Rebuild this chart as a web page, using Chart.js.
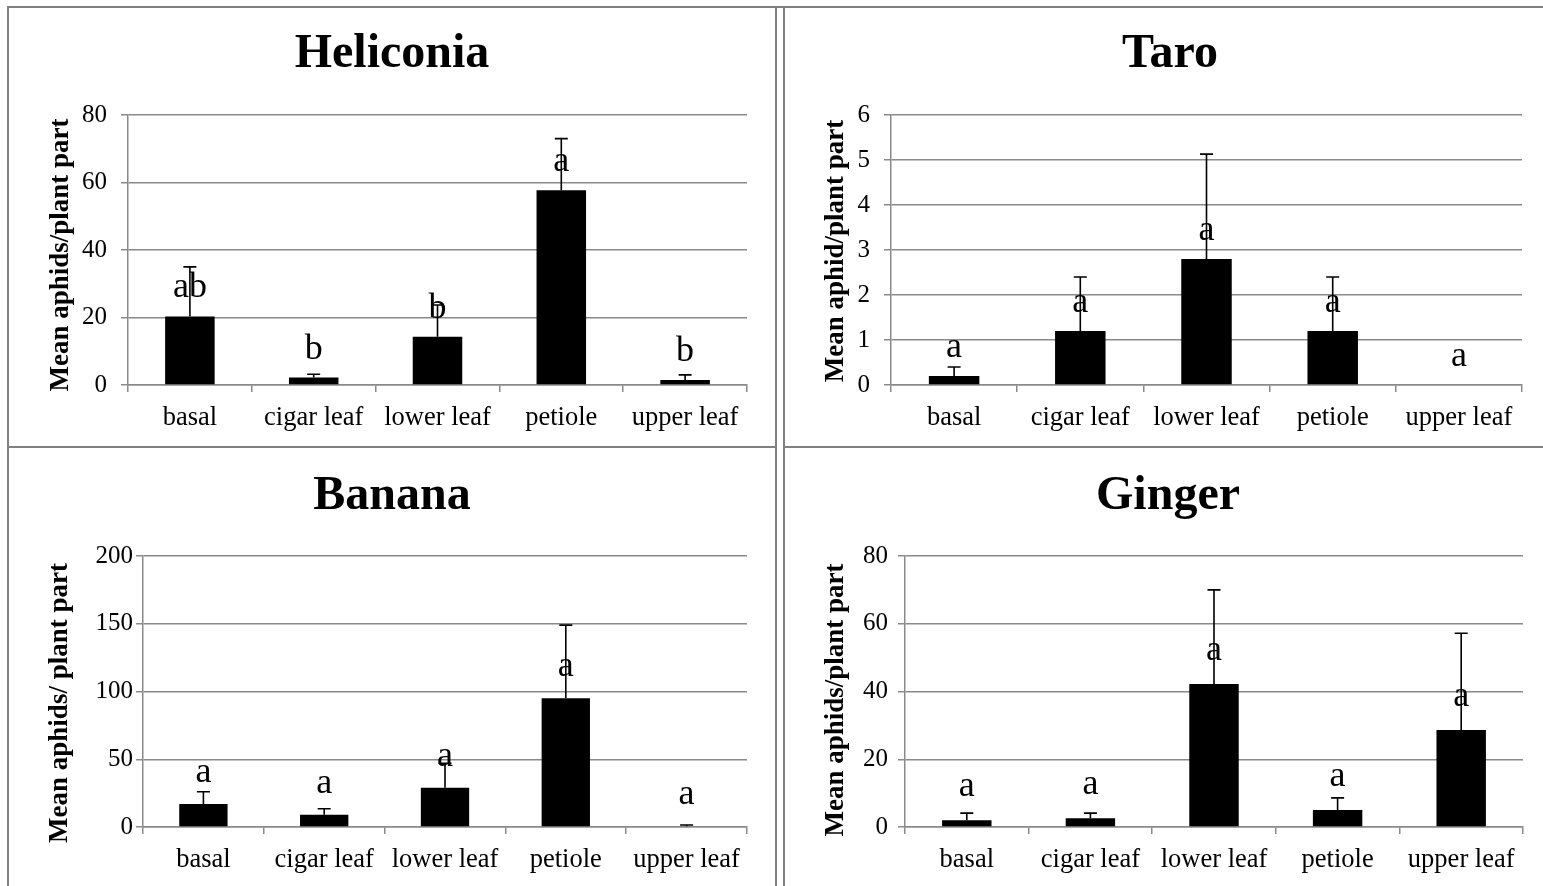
<!DOCTYPE html>
<html>
<head>
<meta charset="utf-8">
<script src="https://cdn.jsdelivr.net/npm/chart.js@4.4.0/dist/chart.umd.min.js"></script>
<style>
  html, body { margin: 0; padding: 0; background: #fff; }
  body { width: 1543px; height: 886px; position: relative; overflow: hidden; }
  canvas { position: absolute; }
  .rule { position: absolute; background: #808080; }
</style>
</head>
<body>
<!-- panel frame -->
<div class="rule" style="left:7px;top:6px;width:2px;height:880px"></div>
<div class="rule" style="left:7px;top:6px;width:1536px;height:1.5px"></div>
<div class="rule" style="left:775px;top:6px;width:2px;height:880px"></div>
<div class="rule" style="left:783px;top:6px;width:2px;height:880px"></div>
<div class="rule" style="left:7px;top:446px;width:768px;height:2px"></div>
<div class="rule" style="left:785px;top:446px;width:758px;height:2px"></div>

<canvas id="heliconia"></canvas>
<canvas id="taro"></canvas>
<canvas id="banana"></canvas>
<canvas id="ginger"></canvas>

<script>
// plant parts sampled
const parts = ['basal', 'cigar leaf', 'lower leaf', 'petiole', 'upper leaf'];

// Heliconia: mean aphids per plant part, standard error, mean separation letters
const heliconiaMean = [20.3, 2.2, 14.3, 57.7, 1.5];
const heliconiaSE = [14.7, 1.0, 9.4, 15.3, 1.5];
const heliconiaGroups = ['ab', 'b', 'b', 'a', 'b'];
const heliconiaTicks = [0, 20, 40, 60, 80];

// Taro
const taroMean = [0.2, 1.2, 2.8, 1.2, 0];
const taroSE = [0.2, 1.2, 2.33, 1.2, 0];
const taroGroups = ['a', 'a', 'a', 'a', 'a'];
const taroTicks = [0, 1, 2, 3, 4, 5, 6];

// Banana
const bananaMean = [17, 9, 29, 95, 0.5];
const bananaSE = [9, 4.5, 18, 54, 1.0];
const bananaGroups = ['a', 'a', 'a', 'a', 'a'];
const bananaTicks = [0, 50, 100, 150, 200];

// Ginger
const gingerMean = [2.0, 2.6, 42.2, 5.0, 28.6];
const gingerSE = [2.1, 1.5, 27.8, 3.6, 28.6];
const gingerGroups = ['a', 'a', 'a', 'a', 'a'];
const gingerTicks = [0, 20, 40, 60, 80];

const SERIF = '"Liberation Serif", "Times New Roman", Times, serif';
const GRID = '#8a8a8a';

const panels = [
  { id: 'heliconia', title: 'Heliconia', yTitle: 'Mean aphids/plant part',
    mean: heliconiaMean, se: heliconiaSE, groups: heliconiaGroups, ticks: heliconiaTicks,
    box: { x: 9, y: 8, w: 766, h: 438 }, plot: { left: 128, right: 747, top: 115, bottom: 385 },
    titleAt: { x: 392, y: 55 }, yTitleAt: { x: 61, y: 255 }, tickPad: 14, letterGap: 19 },
  { id: 'taro', title: 'Taro', yTitle: 'Mean aphid/plant part',
    mean: taroMean, se: taroSE, groups: taroGroups, ticks: taroTicks,
    box: { x: 785, y: 8, w: 758, h: 438 }, plot: { left: 891, right: 1522, top: 115, bottom: 385 },
    titleAt: { x: 1170, y: 55 }, yTitleAt: { x: 836, y: 251 }, tickPad: 14, letterGap: 19 },
  { id: 'banana', title: 'Banana', yTitle: 'Mean aphids/ plant part',
    mean: bananaMean, se: bananaSE, groups: bananaGroups, ticks: bananaTicks,
    box: { x: 9, y: 448, w: 766, h: 438 }, plot: { left: 143, right: 747, top: 556, bottom: 827 },
    titleAt: { x: 392, y: 497 }, yTitleAt: { x: 60, y: 703 }, tickPad: 3, letterGap: 22 },
  { id: 'ginger', title: 'Ginger', yTitle: 'Mean aphids/plant part',
    mean: gingerMean, se: gingerSE, groups: gingerGroups, ticks: gingerTicks,
    box: { x: 785, y: 448, w: 758, h: 438 }, plot: { left: 905, right: 1523, top: 556, bottom: 827 },
    titleAt: { x: 1168, y: 497 }, yTitleAt: { x: 836, y: 700 }, tickPad: 10, letterGap: 24 }
];

// panel heading and rotated value-axis caption
const headingPlugin = {
  id: 'heading',
  afterDraw(chart, args, opts) {
    const ctx = chart.ctx;
    ctx.save();
    ctx.font = 'bold 48px ' + SERIF;
    ctx.fillStyle = '#000';
    ctx.textAlign = 'center';
    ctx.textBaseline = 'middle';
    ctx.fillText(opts.text, opts.x, opts.y);
    ctx.restore();

    ctx.save();
    ctx.translate(opts.axisX, opts.axisY);
    ctx.rotate(-Math.PI / 2);
    ctx.font = 'bold 27px ' + SERIF;
    ctx.fillStyle = '#000';
    ctx.textAlign = 'center';
    ctx.textBaseline = 'middle';
    ctx.fillText(opts.axisText, 0, 0);
    ctx.restore();
  }
};

// positive standard-error whiskers and letter labels above each bar
const errorLetterPlugin = {
  id: 'errorLetters',
  afterDatasetsDraw(chart, args, opts) {
    const ctx = chart.ctx;
    const yScale = chart.scales.y;
    const bars = chart.getDatasetMeta(0).data;
    ctx.save();
    bars.forEach((bar, i) => {
      const m = opts.mean[i];
      const e = opts.se[i];
      const yBar = yScale.getPixelForValue(m);
      if (e > 0) {
        const yTop = yScale.getPixelForValue(m + e);
        ctx.strokeStyle = '#000';
        ctx.lineWidth = 1.6;
        ctx.beginPath();
        ctx.moveTo(bar.x, yBar);
        ctx.lineTo(bar.x, yTop);
        ctx.moveTo(bar.x - 6.5, yTop);
        ctx.lineTo(bar.x + 6.5, yTop);
        ctx.stroke();
      }
      ctx.font = '36px ' + SERIF;
      ctx.fillStyle = '#000';
      ctx.textAlign = 'center';
      ctx.textBaseline = 'alphabetic';
      ctx.fillText(opts.groups[i], bar.x, yBar - opts.gap);
    });
    ctx.restore();
  }
};

panels.forEach(p => {
  const cv = document.getElementById(p.id);
  cv.width = p.box.w;
  cv.height = p.box.h;
  cv.style.left = p.box.x + 'px';
  cv.style.top = p.box.y + 'px';
  cv.style.width = p.box.w + 'px';
  cv.style.height = p.box.h + 'px';

  const yMax = p.ticks[p.ticks.length - 1];
  const yStep = p.ticks[1] - p.ticks[0];

  new Chart(cv, {
    type: 'bar',
    data: {
      labels: parts,
      datasets: [{
        data: p.mean,
        backgroundColor: '#000',
        borderWidth: 0,
        barPercentage: 0.4,
        categoryPercentage: 1.0
      }]
    },
    options: {
      responsive: false,
      animation: false,
      devicePixelRatio: 1,
      layout: {
        padding: {
          left: 0,
          top: p.plot.top - p.box.y,
          right: p.box.x + p.box.w - p.plot.right,
          bottom: 0
        }
      },
      plugins: {
        legend: { display: false },
        tooltip: { enabled: false },
        title: { display: false },
        heading: {
          text: p.title, x: p.titleAt.x - p.box.x, y: p.titleAt.y - p.box.y,
          axisText: p.yTitle, axisX: p.yTitleAt.x - p.box.x, axisY: p.yTitleAt.y - p.box.y
        },
        errorLetters: { mean: p.mean, se: p.se, groups: p.groups, gap: p.letterGap }
      },
      scales: {
        x: {
          offset: true,
          grid: { display: true, offset: true, drawOnChartArea: false, drawTicks: true, tickLength: 7, color: GRID, lineWidth: 1.5 },
          border: { display: true, color: GRID, width: 1.5 },
          ticks: { color: '#000', font: { family: SERIF, size: 26.5 }, padding: 10, maxRotation: 0, autoSkip: false },
          afterFit: s => { s.height = p.box.y + p.box.h - p.plot.bottom; }
        },
        y: {
          min: 0,
          max: yMax,
          ticks: { stepSize: yStep, color: '#000', font: { family: SERIF, size: 25 }, padding: p.tickPad },
          grid: { color: GRID, lineWidth: 1.5, tickLength: 7 },
          border: { display: true, color: GRID, width: 1.5 },
          title: { display: false },
          afterFit: s => { s.width = p.plot.left - p.box.x; }
        }
      }
    },
    plugins: [headingPlugin, errorLetterPlugin]
  });
});
</script>
</body>
</html>
